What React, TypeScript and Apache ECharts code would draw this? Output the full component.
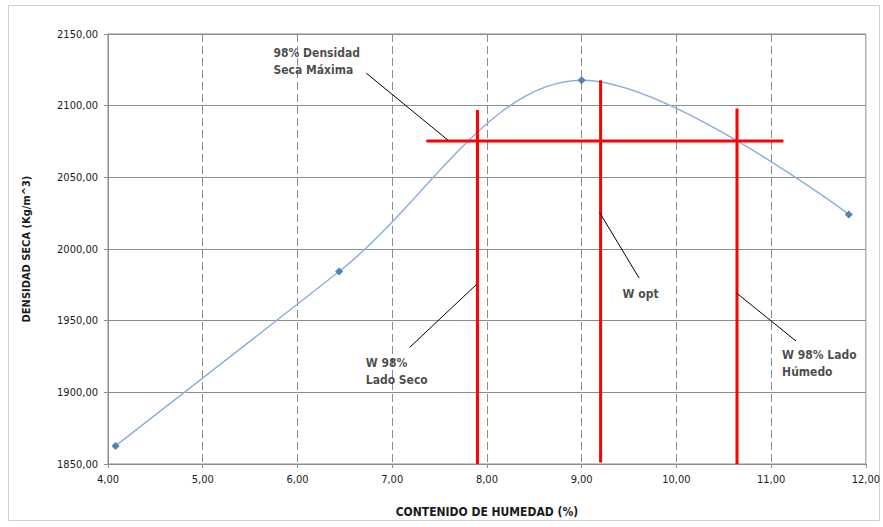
import React, { useEffect, useRef } from "react";
import * as echarts from "echarts";

// Data
const humedad = [4.08, 6.44, 9.0, 11.82];
const densidad = [1862.6, 1984.3, 2117.8, 2024.1];

const xTicks = { min: 4, max: 12, interval: 1 };
const yTicks = { min: 1850, max: 2150, interval: 50 };

// Red construction lines [x, y]
const lineDensidad98 = [[7.36, 2075.4], [11.13, 2075.4]];
const lineSeco = [[7.9, 2097.0], [7.9, 1850]];
const lineOpt = [[9.2, 2117.8], [9.2, 1851]];
const lineHumedo = [[10.64, 2098.0], [10.64, 1850]];

// Leader lines [x, y]
const leaderDensidad = [[6.726, 2122.7], [7.589, 2075.9]];
const leaderOpt = [[9.189, 2025.5], [9.607, 1979.7]];
const leaderSeco = [[7.895, 1975.6], [7.186, 1931.4]];
const leaderHumedo = [[10.635, 1969.3], [11.263, 1935.8]];

// Annotation labels [x, y(top), text]
const annotations: [number, number, string][] = [
  [5.747, 2142.6, "98% Densidad\nSeca Máxima"],
  [9.432, 1974.5, "W opt"],
  [6.721, 1926.6, "W 98%\nLado Seco"],
  [11.116, 1932.3, "W 98% Lado\nHúmedo"],
];

const FONT = "'Liberation Sans Narrow', 'DejaVu Sans Condensed', 'Open Sans', sans-serif";
const fmt = (v: number) => v.toFixed(2).replace(".", ",");

export default function App() {
  const ref = useRef<HTMLDivElement>(null);
  useEffect(() => {
    if (!ref.current) return;
    const chart = echarts.init(ref.current, undefined, { renderer: "svg" });
    const redLine = (data: number[][]) => ({
      type: "line",
      data,
      symbol: "none",
      silent: true,
      lineStyle: { color: "#ff0000", width: 3 },
      z: 4,
    });
    const leader = (data: number[][]) => ({
      type: "line",
      data,
      symbol: "none",
      silent: true,
      lineStyle: { color: "#000000", width: 1 },
      z: 5,
    });
    chart.setOption({
      animation: false,
      backgroundColor: "#ffffff",
      textStyle: { fontFamily: FONT },
      graphic: [
        {
          type: "rect",
          shape: { x: 8.5, y: 5.5, width: 871, height: 515 },
          style: { fill: "none", stroke: "#d0d0d0", lineWidth: 1 },
          silent: true,
        },
      ],
      grid: {
        left: 108,
        top: 34,
        right: 15,
        bottom: 63,
        show: true,
        borderColor: "#8c8c8c",
        borderWidth: 1,
      },
      xAxis: {
        type: "value",
        min: xTicks.min,
        max: xTicks.max,
        interval: xTicks.interval,
        name: "CONTENIDO DE HUMEDAD (%)",
        nameLocation: "middle",
        nameGap: 42,
        nameTextStyle: { fontFamily: FONT, fontSize: 12, fontWeight: "bold", color: "#1a1a1a" },
        axisLine: { show: true, lineStyle: { color: "#8c8c8c" } },
        axisTick: { show: true, length: 4, lineStyle: { color: "#8c8c8c" } },
        axisLabel: { formatter: fmt, fontFamily: FONT, fontSize: 11, color: "#1a1a1a", margin: 10 },
        splitLine: {
          show: true,
          showMinLine: false,
          showMaxLine: false,
          lineStyle: { color: "#8c8c8c", type: [8, 4], width: 1 },
        },
      },
      yAxis: {
        type: "value",
        min: yTicks.min,
        max: yTicks.max,
        interval: yTicks.interval,
        name: "DENSIDAD SECA (Kg/m^3)",
        nameLocation: "middle",
        nameGap: 76,
        nameTextStyle: { fontFamily: FONT, fontSize: 11, fontWeight: "bold", color: "#1a1a1a" },
        axisLine: { show: true, lineStyle: { color: "#8c8c8c" } },
        axisTick: { show: true, length: 4, lineStyle: { color: "#8c8c8c" } },
        axisLabel: { formatter: fmt, fontFamily: FONT, fontSize: 11, color: "#1a1a1a", margin: 10 },
        splitLine: { show: true, lineStyle: { color: "#8c8c8c", width: 1 } },
      },
      series: [
        {
          type: "line",
          data: humedad.map((x, i) => [x, densidad[i]]),
          smooth: 0.35,
          symbol: "diamond",
          symbolSize: 8,
          itemStyle: { color: "#4f81bd" },
          lineStyle: { color: "#8db0dc", width: 1.5 },
          z: 3,
        },
        redLine(lineDensidad98),
        redLine(lineSeco),
        redLine(lineOpt),
        redLine(lineHumedo),
        leader(leaderDensidad),
        leader(leaderOpt),
        leader(leaderSeco),
        leader(leaderHumedo),
        {
          type: "scatter",
          data: annotations.map((a) => ({ value: [a[0], a[1]], name: a[2] })),
          symbolSize: 0,
          silent: true,
          label: {
            show: true,
            position: [0, 0],
            align: "left",
            verticalAlign: "top",
            formatter: (p: any) => p.name,
            fontFamily: FONT,
            fontSize: 12,
            fontWeight: "bold",
            lineHeight: 17,
            color: "#1a1a1a",
          },
          z: 6,
        },
      ],
    });
    return () => chart.dispose();
  }, []);
  return <div ref={ref} style={{ width: 883, height: 527, position: "absolute", left: 0, top: 0 }} />;
}
